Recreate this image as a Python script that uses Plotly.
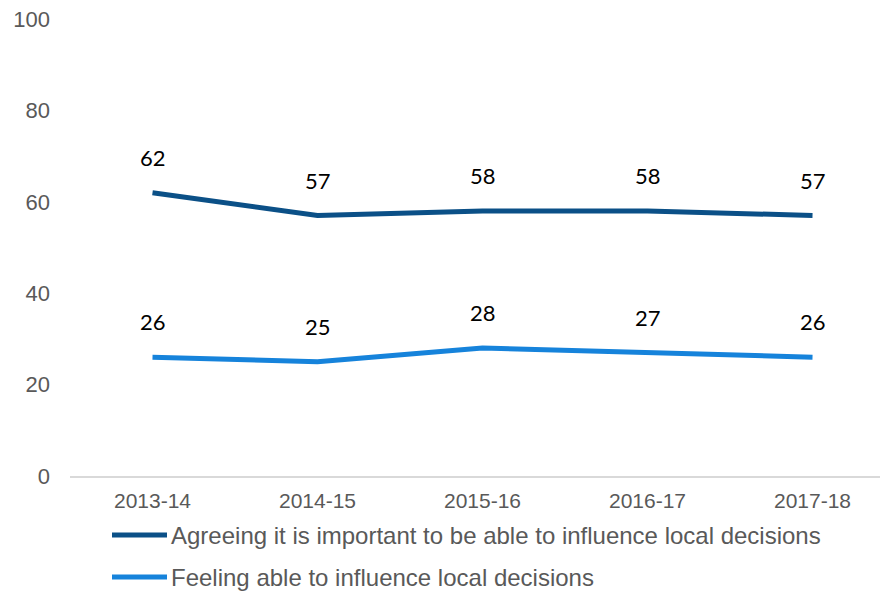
import plotly.graph_objects as go

# Survey years and percentage values
years = ["2013-14", "2014-15", "2015-16", "2016-17", "2017-18"]
important = [62, 57, 58, 58, 57]
able = [26, 25, 28, 27, 26]

series_names = [
    "Agreeing it is important to be able to influence local decisions",
    "Feeling able to influence local decisions",
]
series_values = [important, able]
series_colors = ["#0b5087", "#1683db"]

y_ticks = [0, 20, 40, 60, 80, 100]

W, H = 880, 591
ML, MR, MT, MB = 70, 0, 19, 115
plot_w = W - ML - MR

fig = go.Figure()
for name, vals, col in zip(series_names, series_values, series_colors):
    fig.add_trace(go.Scatter(
        x=years, y=vals, name=name, mode="lines",
        line=dict(color=col, width=5),
        showlegend=False, hoverinfo="skip",
    ))
    for yr, v in zip(years, vals):
        fig.add_annotation(
            x=yr, y=v, text=str(v), showarrow=False,
            yanchor="bottom", yshift=20,
            font=dict(family="Lato, Carlito, sans-serif", size=22, color="#000000"),
        )

# Legend drawn beneath the axis: line swatch followed by its label
legend_rows_px = [535, 577]
swatch_x0, swatch_x1, text_x = 112, 167, 169
for name, col, ypx in zip(series_names, series_colors, legend_rows_px):
    yp = (H - MB - ypx) / (H - MT - MB)
    fig.add_shape(
        type="line", xref="paper", yref="paper",
        x0=(swatch_x0 - ML) / plot_w, x1=(swatch_x1 - ML) / plot_w,
        y0=yp, y1=yp, line=dict(color=col, width=5),
    )
    fig.add_annotation(
        xref="paper", yref="paper", x=(text_x - ML) / plot_w, y=yp,
        xanchor="left", yanchor="middle", showarrow=False, text=name,
        font=dict(family="Liberation Sans, Arial, sans-serif", size=24, color="#595959"),
    )

fig.update_layout(
    width=W, height=H,
    margin=dict(l=ML, r=MR, t=MT, b=MB),
    paper_bgcolor="white", plot_bgcolor="white",
    showlegend=False,
)
fig.update_xaxes(
    type="category", range=[-0.5, 4.409],
    showgrid=False, zeroline=False,
    showline=True, linecolor="#d9d9d9", linewidth=2,
    ticks="", ticklabelstandoff=5,
    tickfont=dict(family="Liberation Sans, Arial, sans-serif", size=21, color="#595959"),
)
fig.update_yaxes(
    range=[0, 100], tickvals=y_ticks,
    showgrid=False, zeroline=False, showline=False,
    ticks="", ticklabelstandoff=19,
    tickfont=dict(family="Liberation Sans, Arial, sans-serif", size=22, color="#595959"),
)

fig.write_html("out.html")
